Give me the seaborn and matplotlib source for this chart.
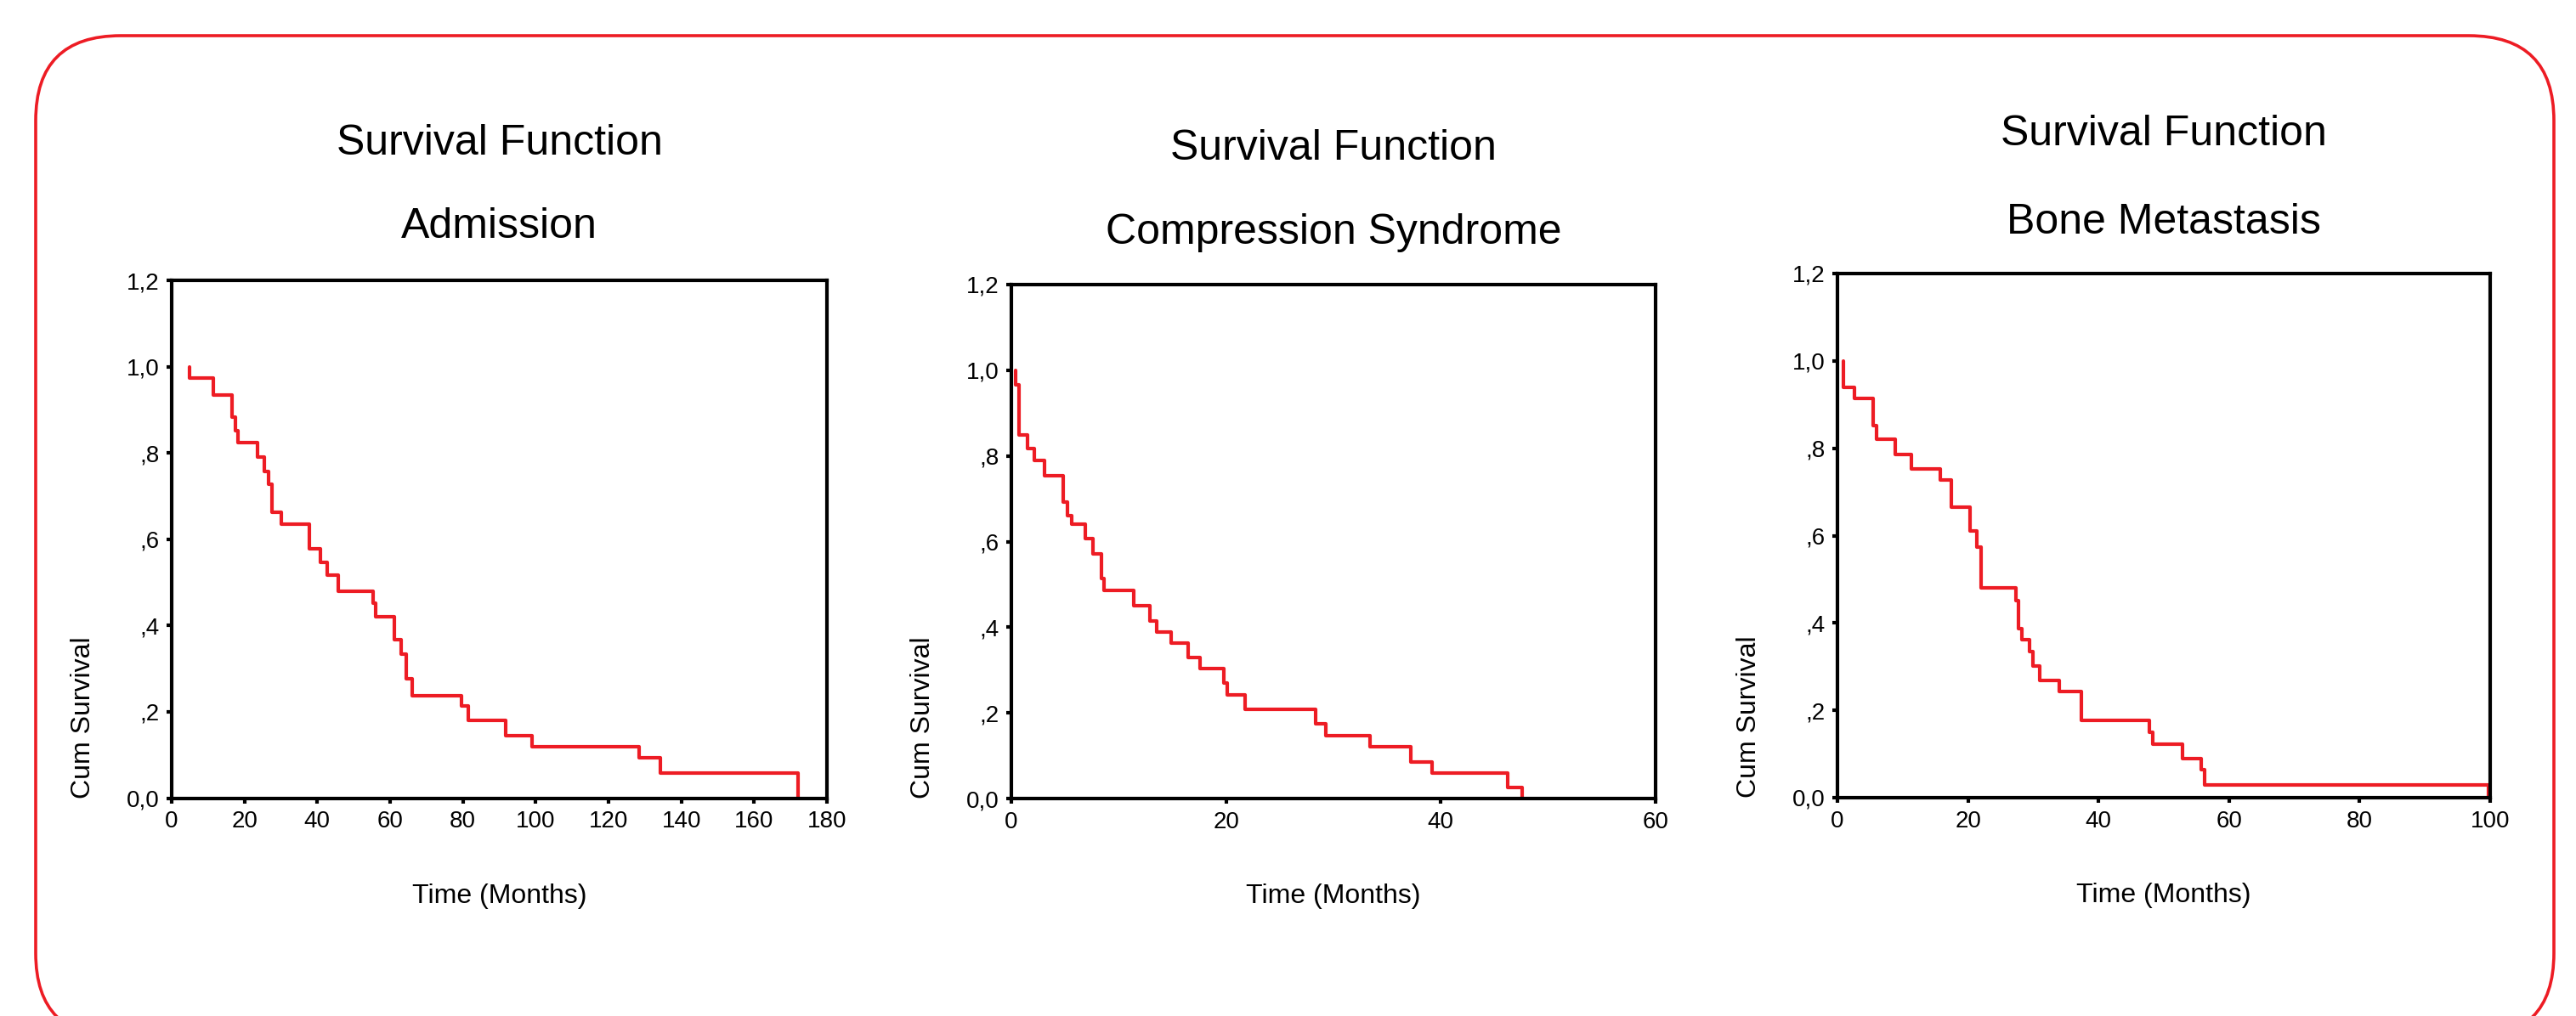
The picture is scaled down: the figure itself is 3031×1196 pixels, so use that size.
import matplotlib
matplotlib.use("Agg")
import matplotlib.pyplot as plt
from matplotlib.patches import FancyBboxPatch
from matplotlib.transforms import IdentityTransform
import seaborn as sns
import pandas as pd

# ----------------------------
# Data
# ----------------------------
adm_months = [5.0, 5.0, 11.4, 16.5, 17.5, 18.1, 23.6, 25.4, 26.7, 27.6, 30.0, 37.9, 40.8, 42.7,
              45.7, 55.3, 56.0, 61.2, 63.1, 64.5, 66.0, 79.5, 81.4, 91.7, 99.1, 128.4, 134.2, 172.0]
adm_surv = [1.0, 0.973, 0.935, 0.883, 0.852, 0.823, 0.790, 0.757, 0.728, 0.663, 0.635, 0.578, 0.547, 0.516,
            0.480, 0.452, 0.421, 0.367, 0.334, 0.276, 0.238, 0.213, 0.180, 0.144, 0.120, 0.093, 0.058, 0.0]

comp_months = [0.4, 0.4, 0.7, 1.5, 2.1, 3.1, 4.8, 5.2, 5.6, 6.9, 7.6, 8.4, 8.6, 11.4, 12.9, 13.5, 14.9,
               16.5, 17.6, 19.8, 20.1, 21.8, 28.3, 29.3, 33.4, 37.2, 39.2, 46.2, 47.6]
comp_surv = [1.0, 0.965, 0.848, 0.817, 0.789, 0.753, 0.693, 0.661, 0.640, 0.607, 0.572, 0.513, 0.485, 0.450,
             0.414, 0.389, 0.362, 0.329, 0.304, 0.270, 0.241, 0.208, 0.174, 0.146, 0.121, 0.086, 0.059, 0.026, 0.0]

bone_months = [0.9, 0.9, 2.6, 5.5, 6.0, 8.8, 11.3, 15.8, 17.5, 20.3, 21.4, 22.0, 27.3, 27.7, 28.3, 29.4,
               30.0, 31.0, 34.0, 37.4, 47.8, 48.3, 52.9, 55.7, 56.2, 99.7]
bone_surv = [1.0, 0.940, 0.914, 0.851, 0.821, 0.785, 0.752, 0.728, 0.666, 0.610, 0.573, 0.481, 0.452, 0.387,
             0.361, 0.335, 0.302, 0.269, 0.243, 0.177, 0.150, 0.123, 0.090, 0.064, 0.030, 0.0]

panel_names = ["Admission", "Compression Syndrome", "Bone Metastasis"]
x_max = [180, 60, 100]
x_step = [20, 20, 20]
y_ticks = [0.0, 0.2, 0.4, 0.6, 0.8, 1.0, 1.2]
y_tick_labels = ["0,0", ",2", ",4", ",6", ",8", "1,0", "1,2"]

# ----------------------------
# Style
# ----------------------------
sns.set_style("white")
plt.rcParams["font.family"] = ["Liberation Sans", "DejaVu Sans"]
plt.rcParams["text.color"] = "black"
plt.rcParams["axes.labelcolor"] = "black"
plt.rcParams["xtick.color"] = "black"
plt.rcParams["ytick.color"] = "black"

RED = "#ED1C24"
W, H = 3031, 1196
fig = plt.figure(figsize=(W / 100, H / 100), dpi=100)

# axes boxes in pixels: left, top, right, bottom
boxes = [(202, 330, 973, 939.5), (1190, 335, 1948, 940), (2162, 322, 2930, 939)]
# title baselines in pixels (two lines)
title_y = [(182, 280), (188, 287), (171, 275)]

series = [(adm_months, adm_surv), (comp_months, comp_surv), (bone_months, bone_surv)]

for i, (months, surv) in enumerate(series):
    l, t, r, b = boxes[i]
    ax = fig.add_axes([l / W, 1 - b / H, (r - l) / W, (b - t) / H])
    df = pd.DataFrame({"Time": months, "Survival": surv})
    sns.lineplot(data=df, x="Time", y="Survival", ax=ax, color=RED, lw=3,
                 drawstyle="steps-post", estimator=None, sort=False)
    ax.set_xlim(0, x_max[i])
    ax.set_ylim(0, 1.2)
    ax.set_xticks(range(0, x_max[i] + 1, x_step[i]))
    ax.set_yticks(y_ticks)
    ax.set_yticklabels(y_tick_labels)
    ax.tick_params(direction="out", length=4.5, width=3, labelsize=20, pad=6,
                   bottom=True, left=True, colors="black")
    for sp in ax.spines.values():
        sp.set_visible(True)
        sp.set_color("black")
        sp.set_linewidth(3)

    ax.set_xlabel("Time (Months)", fontsize=23)
    ax.xaxis.set_label_coords(0.5, -100 / (b - t))
    ax.set_ylabel("Cum Survival", fontsize=23, loc="bottom")
    ax.yaxis.set_label_coords(-89 / (r - l), 0)

    cx = (l + r) / 2 / W
    fig.text(cx, 1 - title_y[i][0] / H, "Survival Function", fontsize=36,
             ha="center", va="baseline")
    fig.text(cx, 1 - title_y[i][1] / H, panel_names[i], fontsize=36,
             ha="center", va="baseline")

# rounded red frame (bottom edge runs off the image)
frame = FancyBboxPatch((42, H - 1222), 3005 - 42, 1222 - 42,
                       boxstyle="round,pad=0,rounding_size=100",
                       fill=False, edgecolor=RED, lw=2.6,
                       transform=IdentityTransform(), clip_on=False)
fig.add_artist(frame)

fig.savefig("out.png", dpi=100, facecolor="white")
